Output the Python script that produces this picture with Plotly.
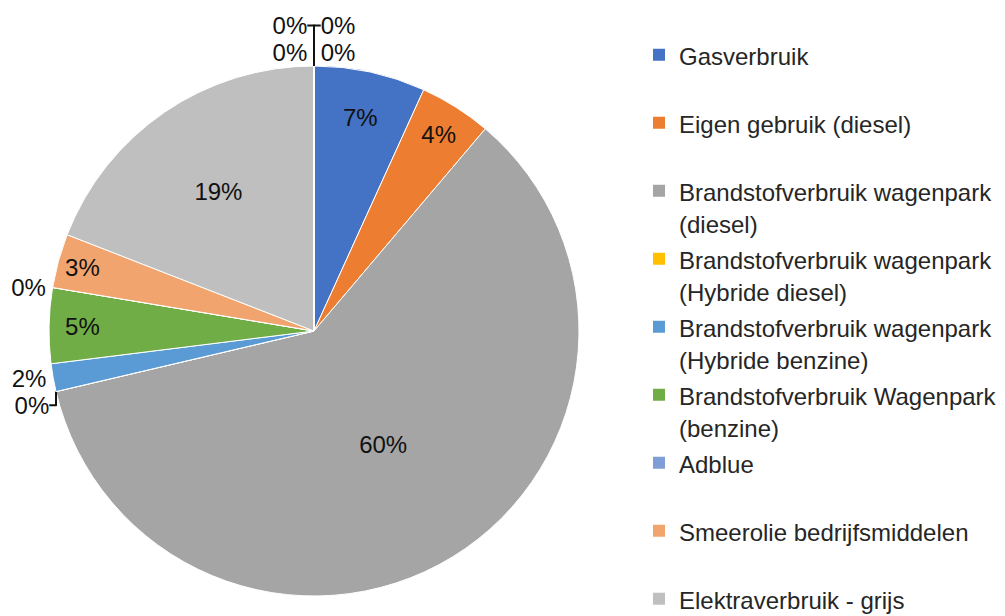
import plotly.graph_objects as go

# Slice order (clockwise from 12 o'clock). The four unnamed zero-valued categories
# are not visible in the (cut-off) legend of the reference; their "0%" labels sit at 12 o'clock.
categories = [
    "(overig 1)",
    "(overig 2)",
    "Gasverbruik",
    "Eigen gebruik (diesel)",
    "Brandstofverbruik wagenpark (diesel)",
    "Brandstofverbruik wagenpark (Hybride diesel)",
    "Brandstofverbruik wagenpark (Hybride benzine)",
    "Brandstofverbruik Wagenpark (benzine)",
    "Adblue",
    "Smeerolie bedrijfsmiddelen",
    "Elektraverbruik - grijs",
    "(overig 3)",
    "(overig 4)",
]
# share in percent
values = [0, 0, 6.8, 4.4, 60.2, 0, 1.7, 4.6, 0, 3.3, 19.1, 0, 0]
colors = ["#FFD966", "#9DC3E6", "#4472C4", "#ED7D31", "#A5A5A5", "#FFC000", "#5B9BD5",
          "#70AD47", "#7F9ED7", "#F2A46F", "#BFBFBF", "#A9D18E", "#264478"]
text_pos = ["outside", "outside", "inside", "inside", "inside", "outside", "outside",
            "inside", "outside", "inside", "inside", "outside", "outside"]

# legend entries visible in the reference
legend_names = [
    "Gasverbruik",
    "Eigen gebruik (diesel)",
    "Brandstofverbruik wagenpark<br>(diesel)",
    "Brandstofverbruik wagenpark<br>(Hybride diesel)",
    "Brandstofverbruik wagenpark<br>(Hybride benzine)",
    "Brandstofverbruik Wagenpark<br>(benzine)",
    "Adblue",
    "Smeerolie bedrijfsmiddelen",
    "Elektraverbruik - grijs",
]
legend_colors = colors[2:11]

W, H = 1005, 616
cx, cy, r = 306, 323, 265
FONT = "Liberation Sans, Arial"

fig = go.Figure()
fig.add_trace(go.Pie(
    labels=categories,
    values=values,
    sort=False,
    direction="clockwise",
    rotation=0,
    marker=dict(colors=colors, line=dict(color="white", width=1)),
    texttemplate="%{percent:.0%}",
    textposition=text_pos,
    insidetextorientation="horizontal",
    textfont=dict(family=FONT, size=24, color="#111111"),
    showlegend=False,
    hoverinfo="label+percent",
    domain=dict(x=[(cx - r) / W, (cx + r) / W], y=[(H - cy - r) / H, (H - cy + r) / H]),
))

for i, (name, col) in enumerate(zip(legend_names, legend_colors)):
    last = i == len(legend_names) - 1
    label = name if ("<br>" in name or last) else name + "<br> "
    fig.add_trace(go.Scatter(
        x=[None], y=[None], mode="markers",
        name="<span style='font-size:24px'>" + label + "</span>",
        marker=dict(symbol="square", size=12, color=col),
        showlegend=True, hoverinfo="skip",
    ))

fig.update_layout(
    width=W, height=H,
    margin=dict(l=0, r=0, t=0, b=0, autoexpand=False),
    paper_bgcolor="white", plot_bgcolor="white",
    xaxis=dict(visible=False), yaxis=dict(visible=False),
    legend=dict(
        x=631 / W, xanchor="left", y=1 - 24 / H, yanchor="top",
        font=dict(family=FONT, size=25, color="#262626"),
        valign="top", bgcolor="rgba(0,0,0,0)",
    ),
)

fig.write_html("out.html")
